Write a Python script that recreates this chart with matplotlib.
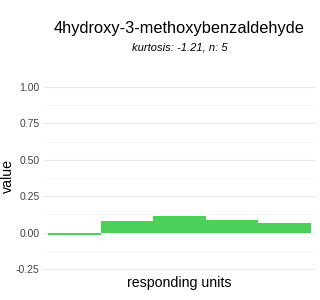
import matplotlib
matplotlib.use("Agg")
import matplotlib.pyplot as plt
from matplotlib.ticker import MultipleLocator

categories = ["1", "2", "3", "4", "5"]
values = [-0.013, 0.083, 0.116, 0.090, 0.068]
yticks = [-0.25, 0.0, 0.25, 0.5, 0.75, 1.0]
ytick_labels = ["-0.25", "0.00", "0.25", "0.50", "0.75", "1.00"]
title = "4hydroxy-3-methoxybenzaldehyde"
subtitle = "kurtosis: -1.21, n: 5"

plt.rcParams['font.family'] = ['Liberation Sans', 'DejaVu Sans']

fig = plt.figure(figsize=(3.2, 3.0), dpi=100)
ax = fig.add_axes([43/320, 0.0723, (316-43)/320, 0.741-0.0723])

x = list(range(1, len(categories) + 1))
ax.bar(x, values, width=1.0, color="#4cd05a", zorder=3)

ax.set_xlim(0.4, len(categories) + 0.6)
ax.set_ylim(-0.3125, 1.0625)
ax.set_yticks(yticks)
ax.set_yticklabels(ytick_labels)
ax.yaxis.set_minor_locator(MultipleLocator(0.125))
ax.set_xticks([])

ax.grid(axis='y', which='major', color='#ebebeb', linewidth=0.8, zorder=0)
ax.grid(axis='y', which='minor', color='#f5f5f5', linewidth=0.6, zorder=0)
for s in ax.spines.values():
    s.set_visible(False)
ax.tick_params(axis='y', which='both', length=0, pad=2.5, labelsize=7.5, labelcolor='#444444')

cx = (43 + 316) / 2 / 320
fig.text(8/320, 1 - 176/300, "value", rotation=90, ha='center', va='center', fontsize=10.2, color='black')
fig.text(cx, 1 - 283/300, "responding units", ha='center', va='center', fontsize=10.2, color='black')
fig.text(cx, 1 - 28/300, title, ha='center', va='center', fontsize=11.8, color='black')
fig.text(cx, 1 - 48/300, subtitle, ha='center', va='center', fontsize=8, style='italic', color='black')

fig.savefig("out.png", dpi=100)
